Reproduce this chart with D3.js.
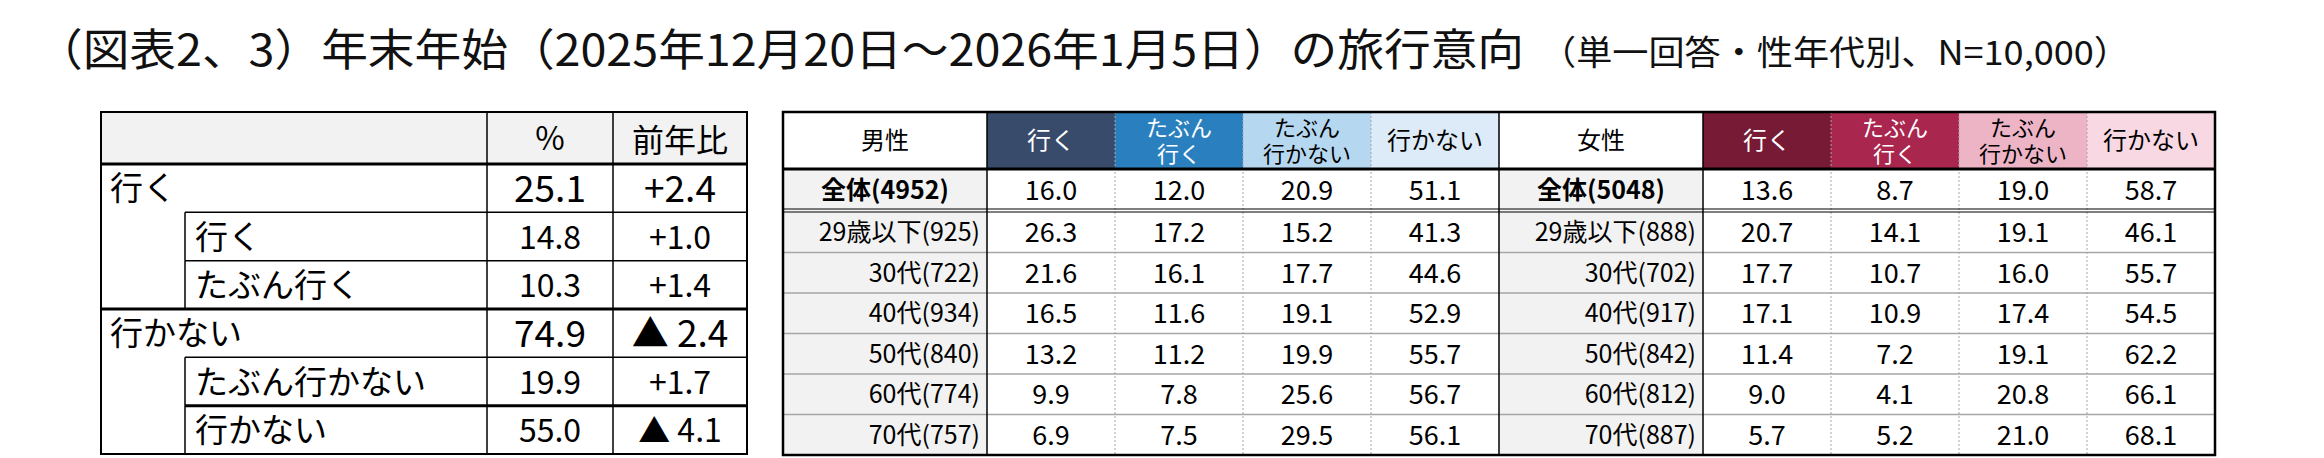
<!DOCTYPE html>
<html><head><meta charset="utf-8">
<script src="https://cdn.jsdelivr.net/npm/d3@7"></script>
<style>body{margin:0;background:#fff;}text{font-family:"Noto Sans CJK JP","Noto Sans",sans-serif;}</style>
</head><body><svg id="c" width="2324" height="458"></svg>
<script>
// data
const summaryLabels = ["行く", "行く", "たぶん行く", "行かない", "たぶん行かない", "行かない"];
const summaryLevel = [0, 1, 1, 0, 1, 1];
const summaryPct = ["25.1", "14.8", "10.3", "74.9", "19.9", "55.0"];
const summaryDiff = ["+2.4", "+1.0", "+1.4", "▲ 2.4", "+1.7", "▲ 4.1"];

const answerCols = [["行く"], ["たぶん", "行く"], ["たぶん", "行かない"], ["行かない"]];
const menLabels = ["全体(4952)", "29歳以下(925)", "30代(722)", "40代(934)", "50代(840)", "60代(774)", "70代(757)"];
const menValues = [
  [16.0, 12.0, 20.9, 51.1],
  [26.3, 17.2, 15.2, 41.3],
  [21.6, 16.1, 17.7, 44.6],
  [16.5, 11.6, 19.1, 52.9],
  [13.2, 11.2, 19.9, 55.7],
  [9.9, 7.8, 25.6, 56.7],
  [6.9, 7.5, 29.5, 56.1]
];
const womenLabels = ["全体(5048)", "29歳以下(888)", "30代(702)", "40代(917)", "50代(842)", "60代(812)", "70代(887)"];
const womenValues = [
  [13.6, 8.7, 19.0, 58.7],
  [20.7, 14.1, 19.1, 46.1],
  [17.7, 10.7, 16.0, 55.7],
  [17.1, 10.9, 17.4, 54.5],
  [11.4, 7.2, 19.1, 62.2],
  [9.0, 4.1, 20.8, 66.1],
  [5.7, 5.2, 21.0, 68.1]
];
const menColors = ["#384b6b", "#2a80bf", "#b5d8f0", "#dcebf7"];
const womenColors = ["#771a35", "#a9264e", "#edb4c6", "#f8d8e3"];

const svg = d3.select("#c");

// title
svg.append("text").attr("x", 36).attr("y", 66).attr("font-size", 44).attr("fill", "#111")
  .attr("textLength", 1488).attr("lengthAdjust", "spacingAndGlyphs")
  .text("（図表2、3）年末年始（2025年12月20日～2026年1月5日）の旅行意向");
svg.append("text").attr("x", 1540).attr("y", 65).attr("font-size", 34).attr("fill", "#111")
  .attr("textLength", 590).attr("lengthAdjust", "spacingAndGlyphs")
  .text("（単一回答・性年代別、N=10,000）");

// left summary table
const L = {x0: 101, x1: 185, xp: 487, xd: 613, x2: 747, top: 112, head: 164, bottom: 454};
const ly = d3.scaleBand().domain(d3.range(summaryLabels.length)).range([L.head, L.bottom]);
const g1 = svg.append("g");
g1.append("rect").attr("x", L.x0).attr("y", L.top).attr("width", L.x2 - L.x0).attr("height", L.head - L.top).attr("fill", "#f2f2f2");
g1.append("text").attr("x", (L.xp + L.xd) / 2).attr("y", L.top + 38).attr("text-anchor", "middle").attr("font-size", 32).text("%");
g1.append("text").attr("x", (L.xd + L.x2) / 2).attr("y", L.top + 40).attr("text-anchor", "middle").attr("font-size", 32).text("前年比");

summaryLabels.forEach((lab, i) => {
  const y = ly(i), h = ly.bandwidth(), big = summaryLevel[i] === 0;
  const fs = big ? 37 : 32;
  g1.append("text").attr("x", big ? L.x0 + 9 : L.x1 + 10).attr("y", y + h / 2 + 12).attr("font-size", 33).text(lab);
  g1.append("text").attr("x", (L.xp + L.xd) / 2).attr("y", y + h / 2 + (big ? 14 : 12)).attr("text-anchor", "middle").attr("font-size", fs).text(summaryPct[i]);
  g1.append("text").attr("x", (L.xd + L.x2) / 2).attr("y", y + h / 2 + (big ? 14 : 12)).attr("text-anchor", "middle").attr("font-size", fs).text(summaryDiff[i]);
  const x0 = big ? L.x0 : L.x1;
  g1.append("line").attr("x1", x0).attr("x2", L.x2).attr("y1", y).attr("y2", y).attr("stroke", "#000")
    .attr("stroke-width", big || i === 5 ? 3 : 1.5);
});
[L.x1, L.xp, L.xd].forEach((x, k) => {
  if (k === 0) {
    summaryLevel.forEach((lv, i) => { if (lv) g1.append("line").attr("x1", x).attr("x2", x).attr("y1", ly(i)).attr("y2", ly(i) + ly.bandwidth()).attr("stroke", "#000").attr("stroke-width", 1.5); });
  } else {
    g1.append("line").attr("x1", x).attr("x2", x).attr("y1", L.top).attr("y2", L.bottom).attr("stroke", "#000").attr("stroke-width", 1.5);
  }
});
g1.append("rect").attr("x", L.x0).attr("y", L.top).attr("width", L.x2 - L.x0).attr("height", L.bottom - L.top).attr("fill", "none").attr("stroke", "#000").attr("stroke-width", 2);

// right cross tables
const R = {top: 112, head: 169, total: 210, bottom: 455};
const ry = d3.scaleBand().domain(d3.range(1, menLabels.length)).range([R.total + 2, R.bottom]);
const rowY = i => i === 0 ? R.head : ry(i);
const rowH = i => i === 0 ? R.total - R.head : ry.bandwidth();

function crossTable(x0, title, labels, values, colors) {
  const g = svg.append("g");
  const labW = 204;
  const cx = d3.scaleBand().domain(d3.range(answerCols.length)).range([x0 + labW, x0 + labW + 4 * 128]);
  const x2 = x0 + labW + 4 * 128;
  g.append("rect").attr("x", x0).attr("y", R.head).attr("width", labW).attr("height", R.bottom - R.head).attr("fill", "#f2f2f2");
  g.append("text").attr("x", x0 + labW / 2).attr("y", R.top + 37).attr("text-anchor", "middle").attr("font-size", 24).text(title);
  answerCols.forEach((lines, j) => {
    g.append("rect").attr("x", cx(j)).attr("y", R.top).attr("width", cx.bandwidth()).attr("height", R.head - R.top).attr("fill", colors[j]);
    const t = g.append("text").attr("text-anchor", "middle").attr("font-size", lines.length === 1 ? 24 : 22).attr("fill", j < 2 ? "#fff" : "#000");
    lines.forEach((s, k) => {
      t.append("tspan").attr("x", cx(j) + cx.bandwidth() / 2)
        .attr("y", lines.length === 1 ? R.top + 37 : R.top + 24 + k * 26).text(s);
    });
  });
  labels.forEach((lab, i) => {
    const y = rowY(i), h = rowH(i);
    g.append("text").attr("x", i === 0 ? x0 + labW / 2 : x0 + labW - 7).attr("y", y + h / 2 + 9)
      .attr("text-anchor", i === 0 ? "middle" : "end").attr("font-size", 25)
      .attr("font-weight", i === 0 ? "bold" : "normal").text(lab);
    values[i].forEach((v, j) => {
      g.append("text").attr("x", cx(j) + cx.bandwidth() / 2).attr("y", y + h / 2 + 10)
        .attr("text-anchor", "middle").attr("font-size", 27).text(v.toFixed(1));
    });
    if (i > 1) g.append("line").attr("x1", x0).attr("x2", x2).attr("y1", y).attr("y2", y).attr("stroke", "#a6a6a6").attr("stroke-width", 1.5);
  });
  d3.range(1, 4).forEach(j => g.append("line").attr("x1", cx(j)).attr("x2", cx(j)).attr("y1", R.top).attr("y2", R.bottom)
    .attr("stroke", "#a6a6a6").attr("stroke-width", 1).attr("stroke-dasharray", "2,2"));
  g.append("line").attr("x1", x0 + labW).attr("x2", x0 + labW).attr("y1", R.top).attr("y2", R.bottom).attr("stroke", "#000").attr("stroke-width", 1.5);
  g.append("line").attr("x1", x0).attr("x2", x2).attr("y1", R.head).attr("y2", R.head).attr("stroke", "#000").attr("stroke-width", 3);
  g.append("line").attr("x1", x0).attr("x2", x2).attr("y1", R.total - 1).attr("y2", R.total - 1).attr("stroke", "#000").attr("stroke-width", 1.2);
  g.append("line").attr("x1", x0).attr("x2", x2).attr("y1", R.total + 2).attr("y2", R.total + 2).attr("stroke", "#000").attr("stroke-width", 1.2);
  return x2;
}
const mid = crossTable(783, "男性", menLabels, menValues, menColors);
const end = crossTable(mid, "女性", womenLabels, womenValues, womenColors);
svg.append("rect").attr("x", 783).attr("y", R.top).attr("width", end - 783).attr("height", R.bottom - R.top)
  .attr("fill", "none").attr("stroke", "#000").attr("stroke-width", 2.5);
svg.append("line").attr("x1", mid).attr("x2", mid).attr("y1", R.top).attr("y2", R.bottom).attr("stroke", "#000").attr("stroke-width", 1.5);
</script></body></html>
